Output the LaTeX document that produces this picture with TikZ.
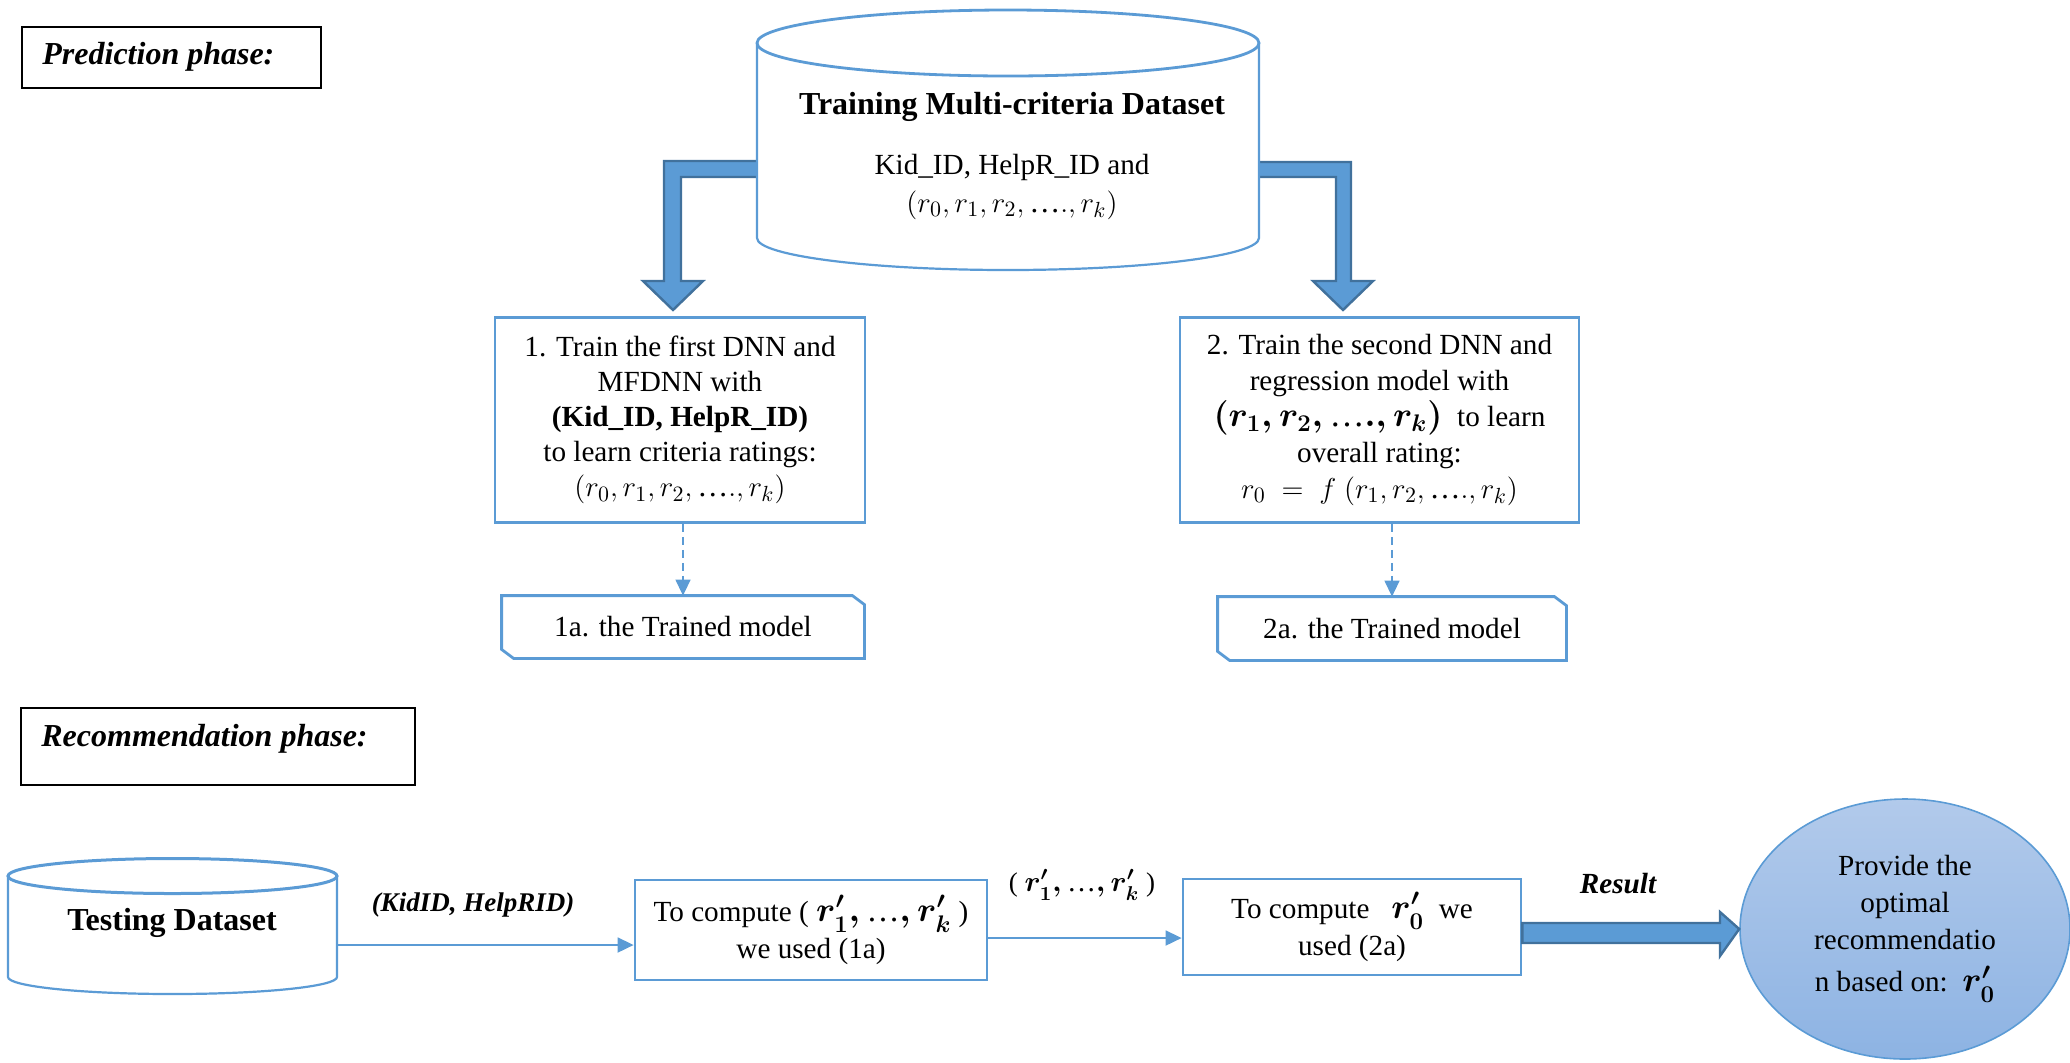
\documentclass[tikz,border=0pt]{standalone}
\usepackage{amsmath}
\usepackage{fontspec}
\setmainfont{Liberation Serif}
\usetikzlibrary{calc,arrows.meta,shapes.geometric}

\definecolor{officeblue}{RGB}{91,155,213}
\definecolor{arrowedge}{RGB}{65,113,156}
\definecolor{ovaltop}{RGB}{178,202,235}
\definecolor{ovalbottom}{RGB}{141,179,227}

% compact ellipsis taken from the text font, usable inside formulas
\newcommand{\tdots}{\text{\normalfont\mdseries …}}

\begin{document}
\begin{tikzpicture}[x=0.5pt,y=-0.5pt,
  bluebox/.style={draw=officeblue, line width=1.4pt, fill=white, inner sep=0pt},
  txt/.style={font=\fontsize{14.6}{17.5}\selectfont, align=center, inner sep=0pt},
  phasebox/.style={draw=black, line width=0.8pt},
  phasetext/.style={font=\fontsize{16}{19}\selectfont\bfseries\itshape, anchor=west, inner sep=0pt},
  cyl/.style={draw=officeblue, line width=1.1pt, fill=white},
  bigarrow/.style={fill=officeblue, draw=arrowedge, line width=1.2pt, line join=miter},
  thinarrow/.style={draw=officeblue, line width=0.9pt, -{Triangle[length=8pt,width=7.5pt]}},
  dasharrow/.style={draw=officeblue, line width=0.7pt, dash pattern=on 4pt off 2.5pt,
    -{Triangle[length=8pt,width=7.5pt]}},
  flowlabel/.style={font=\fontsize{13.5}{16}\selectfont, inner sep=0pt}
]
\useasboundingbox (0,0) rectangle (2070,1062);

% ---------- prediction phase ----------
\draw[phasebox] (22,27) rectangle (321,88);
\node[phasetext] (predlbl) at (42,57) {Prediction phase:};

% bent arrows leaving the training dataset
\draw[bigarrow] (775,161) -- (664,161) -- (664,281) -- (643,281) -- (673,310)
  -- (703,281) -- (681,281) -- (681,177) -- (775,177) -- cycle;
\draw[bigarrow] (1240,162) -- (1351,162) -- (1351,281) -- (1373,281) -- (1343,310)
  -- (1313,281) -- (1336,281) -- (1336,177) -- (1240,177) -- cycle;

% training dataset cylinder
\draw[cyl] (757,43) -- (757,238)
  arc[start angle=180, end angle=360, x radius=125.5pt, y radius=16pt] -- (1259,43);
\draw[cyl, line width=1.4pt] (1008,43) ellipse[x radius=125.5pt, y radius=16.5pt];
\node[font=\fontsize{16}{19}\selectfont\bfseries, inner sep=0pt] (trainT) at (1012,107)
  {Training Multi-criteria Dataset};
\node[txt] (trainA) at (1012,167) {Kid\_ID, HelpR\_ID and};
\node[txt] (trainB) at (1012,205)
  {{\fontsize{15.5}{17.5}\selectfont$(r_0, r_1, r_2, \tdots., r_k)$}};

% training steps
\node[bluebox, txt, minimum width=185pt, minimum height=102.5pt] (step1) at (680,420)
  {1. Train the first DNN and\\
   MFDNN with\\
   \textbf{(Kid\_ID, HelpR\_ID)}\\
   to learn criteria ratings:\\
   {\fontsize{15.5}{17.5}\selectfont$(r_0, r_1, r_2, \tdots., r_k)$}};
\node[bluebox, txt, font=\fontsize{14.6}{18}\selectfont, minimum width=199.5pt,
  minimum height=102.5pt] (step2) at (1379.5,420)
  {2. Train the second DNN and\\
   regression model with\\
   {\fontsize{17.5}{18}\selectfont\boldmath$\left(r_1, r_2, \tdots., r_k\right)$}\ \ to learn\\
   overall rating:\\
   {\fontsize{15.5}{18}\selectfont$r_0\ =\ f\ (r_1, r_2, \tdots., r_k)$}};

% trained models (snipped corners)
\node[txt, minimum width=181pt, minimum height=31pt] (modelA) at (683,627)
  {1a. the Trained model};
\node[txt, minimum width=174pt, minimum height=31.5pt] (modelB) at (1392,628.5)
  {2a. the Trained model};
\foreach \m in {modelA,modelB}{
  \draw[draw=officeblue, line width=1.4pt]
    (\m.north west) -- ([xshift=-6pt]\m.north east) -- ([yshift=-4.5pt]\m.north east)
    -- (\m.south east) -- ([xshift=6pt]\m.south west) -- ([yshift=4.5pt]\m.south west)
    -- cycle;
}
\draw[dasharrow] (modelA.north |- step1.south) -- (modelA.north);
\draw[dasharrow] (modelB.north |- step2.south) -- (modelB.north);

% ---------- recommendation phase ----------
\draw[phasebox] (21,708) rectangle (415,785);
\node[phasetext] (reclbl) at (41,739) {Recommendation phase:};

% testing dataset cylinder
\draw[cyl] (8,876) -- (8,977)
  arc[start angle=180, end angle=360, x radius=82.25pt, y radius=8.5pt] -- (337,876);
\draw[cyl, line width=1.5pt] (172.5,876) ellipse[x radius=82.25pt, y radius=8.75pt];
\node[font=\fontsize{16}{19}\selectfont\bfseries, inner sep=0pt] (testT) at (172,923)
  {Testing Dataset};
\coordinate (testR) at (337,945);

\node[bluebox, txt, minimum width=176pt, minimum height=50pt] (comp1) at (811,930)
  {To compute ( {\fontsize{16.5}{17.5}\selectfont\boldmath$r'_1, \tdots, r'_k$} )\\[1pt]
   we used (1a)};
\node[bluebox, txt, minimum width=169pt, minimum height=48pt] (comp2) at (1352,927)
  {To compute \ \ {\fontsize{16.5}{17.5}\selectfont\boldmath$r'_0$} \ we\\[1pt]
   used (2a)};
\node[ellipse, draw=officeblue, line width=0.8pt, top color=ovaltop, bottom color=ovalbottom,
  minimum width=165pt, minimum height=130pt, inner sep=0pt, align=center,
  font=\fontsize{14.6}{18.5}\selectfont] (result) at (1905,929)
  {Provide the\\
   optimal\\
   recommendatio\\[2.5pt]
   n based on:\ \ {\fontsize{16.5}{18.5}\selectfont\boldmath$r'_0$}};

\draw[thinarrow] (testR) -- (testR -| comp1.west);
\node[flowlabel, font=\fontsize{13.5}{16}\selectfont\bfseries\itshape] (lblA) at (473,905)
  {(KidID, HelpRID)};
\coordinate (c1out) at ($(comp1.east)+(0,8)$);
\draw[thinarrow] (c1out) -- (c1out -| comp2.west);
\node[flowlabel] (lblB) at (1082,885)
  {( {\fontsize{14.5}{16}\selectfont\boldmath$r'_1, \tdots, r'_k$} )};

\coordinate (rtop) at (comp2.east |- 0,923);
\coordinate (rbot) at (comp2.east |- 0,943);
\draw[bigarrow] (rtop) -- (1720,923) -- (1720,912) -- (result.west)
  -- (1720,956) -- (1720,943) -- (rbot) -- cycle;
\node[flowlabel, font=\fontsize{14.6}{17}\selectfont\bfseries\itshape] (lblC) at (1618,884)
  {Result};
\end{tikzpicture}
\end{document}
